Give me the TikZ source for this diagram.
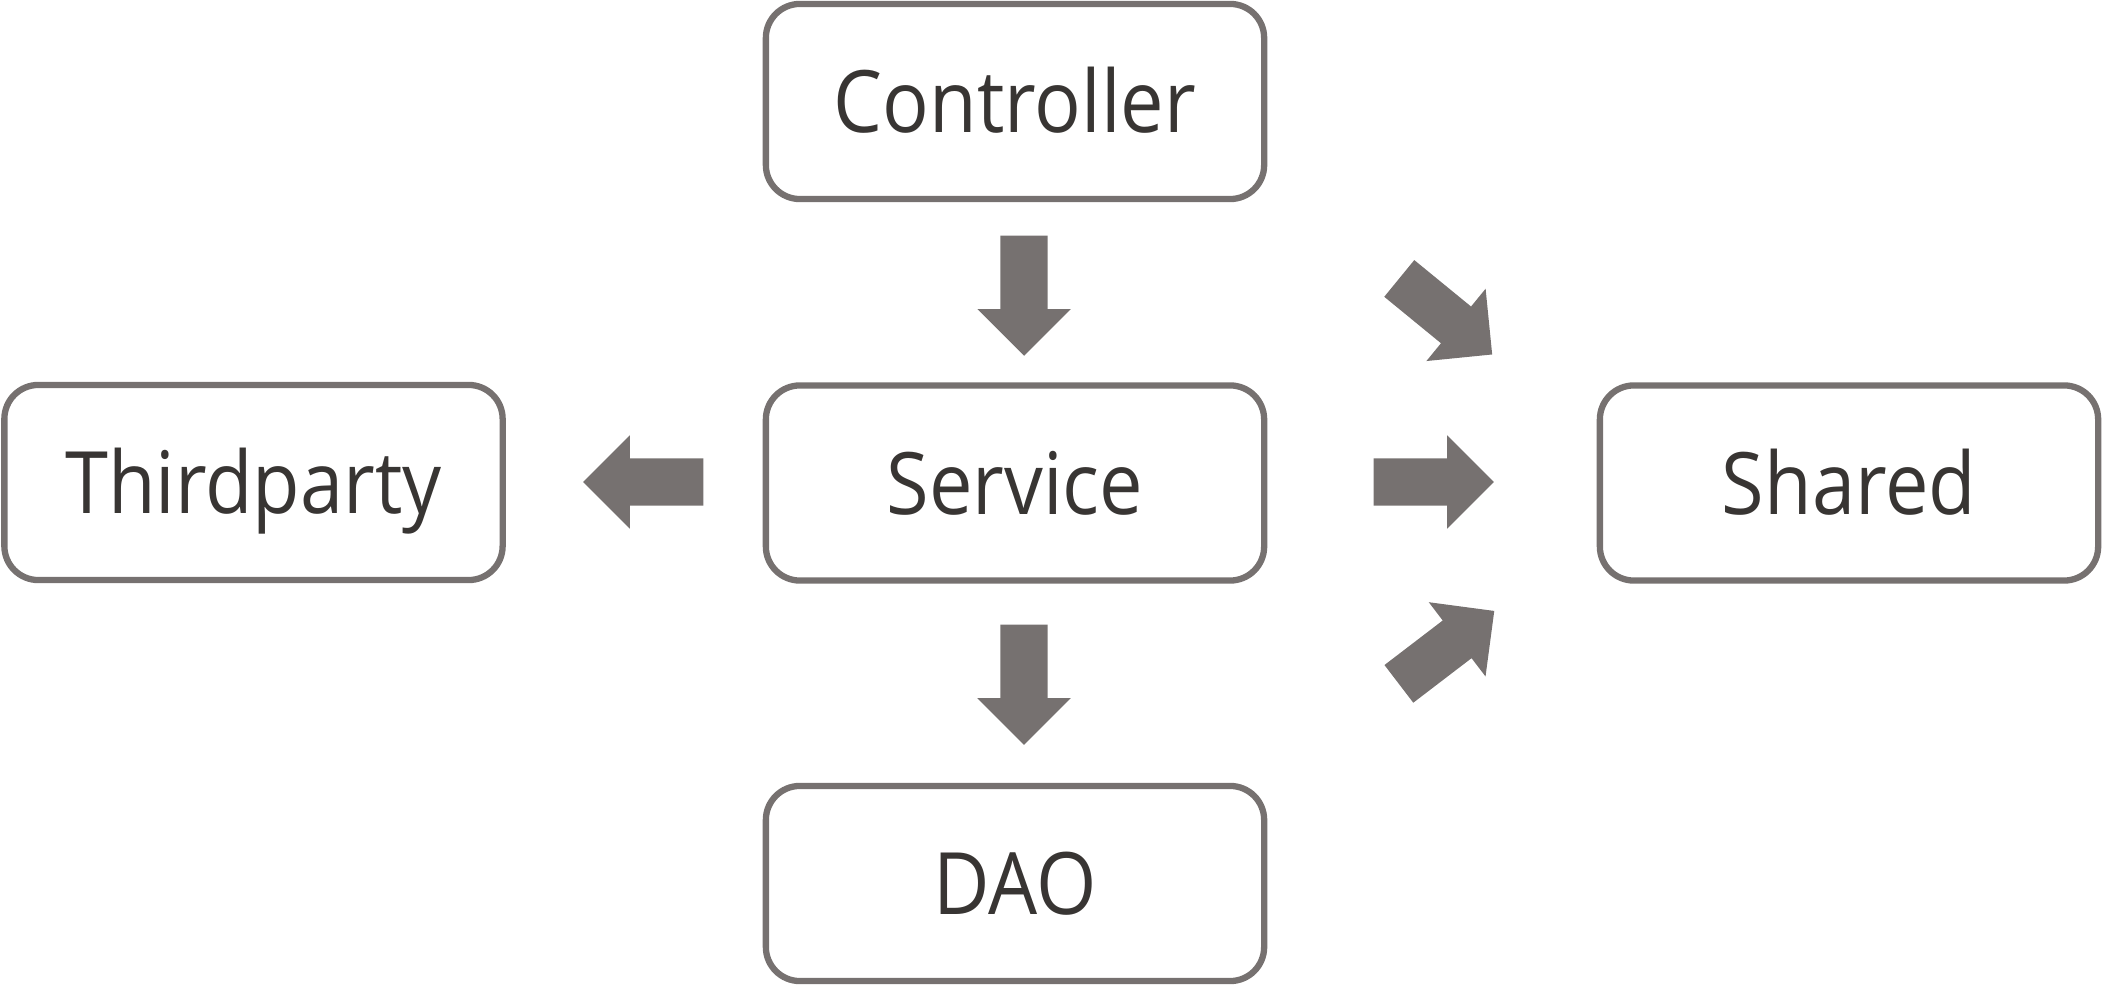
\documentclass[tikz,border=0pt]{standalone}
\usepackage{fontspec}
\setmainfont{Open Sans}[FakeStretch=0.9]
\usepackage{tikz}
\usetikzlibrary{positioning,calc,shapes.arrows}

\definecolor{gris}{HTML}{767170}
\definecolor{texto}{HTML}{383533}

\tikzset{
  capa/.style={draw=gris, line width=0.063cm, rounded corners=0.34cm,
    minimum width=4.98cm, minimum height=1.95cm, inner sep=0pt,
    text=texto, font=\fontsize{24.5}{28}\selectfont,
    text height=0.62cm, text depth=0pt},
  flecha/.style={single arrow, fill=gris, draw=none, inner xsep=0pt,
    inner ysep=0.23cm, minimum width=0.92cm, minimum height=1.2cm,
    single arrow head extend=0.23cm, single arrow tip angle=90,
    anchor=tail}
}

\begin{document}
\begin{tikzpicture}[x=0.01cm, y=-0.01cm]
	\useasboundingbox (0,0) rectangle (2104,986);
	% capas
	\node [capa] (controller) at (1015,101.5) {Controller};
	\node [capa] (service) at (1015,483) {Service};
	\node [capa] (thirdparty) at (253.5,482.5) {Thirdparty};
	\node [capa] (shared) at (1849,483) {Shared};
	\node [capa] (dao) at (1015,883.5) {DAO};
	% flechas
	\node [flecha, rotate=-90] (f1) at (1024,235) {};
	\node [flecha, rotate=-90] (f2) at (1024,624) {};
	\node [flecha, rotate=180] (f3) at (704,482) {};
	\node [flecha] (f4) at (1373,482) {};
	\node [flecha, rotate=-39.3] (f5) at (1398.7,278) {};
	\node [flecha, rotate=37.4] (f6) at (1398.3,684.3) {};
\end{tikzpicture}
\end{document}
